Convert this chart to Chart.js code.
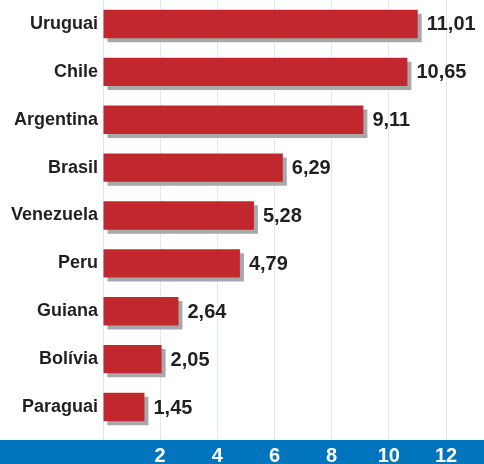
<!DOCTYPE html>
<html>
<head>
<meta charset="utf-8">
<script src="https://cdn.jsdelivr.net/npm/chart.js@4/dist/chart.umd.min.js"></script>
<style>
html,body{margin:0;padding:0;background:#fff;}
#wrap{width:484px;height:464px;position:relative;}
</style>
</head>
<body>
<div id="wrap"><canvas id="c" width="484" height="464"></canvas></div>
<script>
const categories = ["Uruguai","Chile","Argentina","Brasil","Venezuela","Peru","Guiana","Bolívia","Paraguai"];
const values = [11.01,10.65,9.11,6.29,5.28,4.79,2.64,2.05,1.45];
const xTickValues = [0,2,4,6,8,10,12];
const xTickLabels = ["","2","4","6","8","10","12"];

const FONT = "'Liberation Sans', Arial, Helvetica, sans-serif";

const decor = {
  id: 'decor',
  beforeDraw(chart) {
    const ctx = chart.ctx;
    const x = chart.scales.x;
    ctx.save();
    ctx.fillStyle = '#0075be';
    ctx.fillRect(0, x.top + 9, chart.width, chart.height - (x.top + 9));
    ctx.restore();
  },
  beforeDatasetsDraw(chart) {
    const ctx = chart.ctx;
    ctx.save();
    ctx.shadowColor = '#a7a8ab';
    ctx.shadowOffsetX = 4;
    ctx.shadowOffsetY = 4;
    ctx.shadowBlur = 0;
  },
  afterDatasetsDraw(chart) {
    const ctx = chart.ctx;
    ctx.restore();
    const meta = chart.getDatasetMeta(0);
    ctx.save();
    ctx.fillStyle = '#231f20';
    ctx.font = 'bold 20px ' + FONT;
    ctx.textAlign = 'left';
    ctx.textBaseline = 'middle';
    meta.data.forEach((bar, i) => {
      const txt = values[i].toFixed(2).replace('.', ',');
      ctx.fillText(txt, bar.x + 9, bar.y + 1);
    });
    ctx.restore();
  }
};

new Chart(document.getElementById('c'), {
  type: 'bar',
  data: {
    labels: categories,
    datasets: [{
      data: values,
      backgroundColor: '#c1272d',
      borderWidth: 0,
      categoryPercentage: 1,
      barPercentage: 0.593
    }]
  },
  options: {
    indexAxis: 'y',
    responsive: false,
    animation: false,
    devicePixelRatio: 1,
    layout: { padding: { left: 0, right: 38, top: 0, bottom: 0 } },
    plugins: { legend: { display: false }, tooltip: { enabled: false } },
    scales: {
      x: {
        type: 'linear',
        min: 0,
        max: 12,
        afterBuildTicks(scale) { scale.ticks = xTickValues.map(v => ({ value: v })); },
        afterFit(scale) { scale.height = 33; scale.paddingLeft = 0; scale.paddingRight = 0; },
        grid: { color: '#dce8f2', lineWidth: 1, drawTicks: true, tickLength: 9, tickColor: '#dce8f2' },
        border: { display: false },
        ticks: {
          color: '#ffffff',
          font: { family: FONT, size: 20, weight: 'bold' },
          padding: 4,
          maxRotation: 0,
          callback(v) { const i = xTickValues.indexOf(v); return i >= 0 ? xTickLabels[i] : ''; }
        }
      },
      y: {
        afterFit(scale) { scale.width = 103; scale.paddingTop = 0; scale.paddingBottom = 0; },
        grid: { display: false, drawTicks: false },
        border: { display: false },
        ticks: {
          color: '#231f20',
          font: { family: FONT, size: 18, weight: 'bold' },
          padding: 5
        }
      }
    }
  },
  plugins: [decor]
});
</script>
</body>
</html>
